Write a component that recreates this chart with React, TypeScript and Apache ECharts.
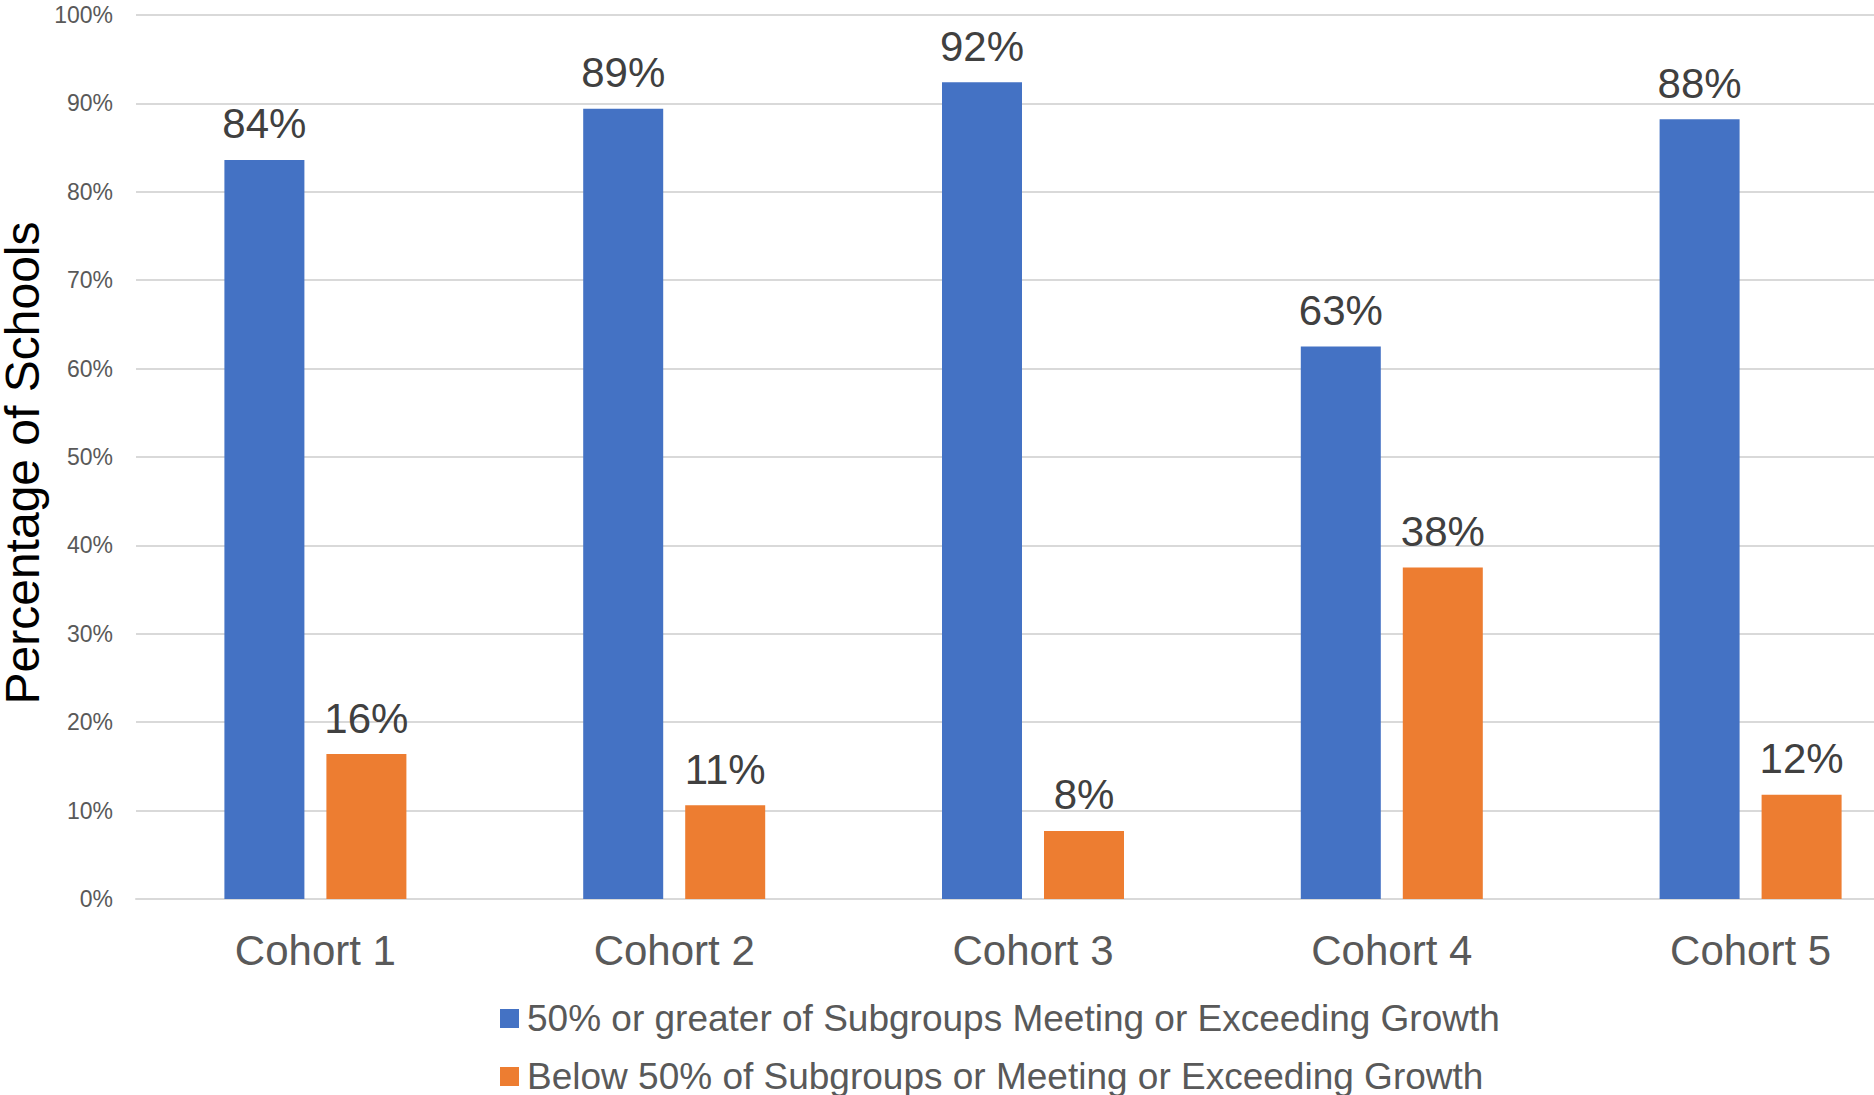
import React, { useEffect, useRef } from "react";
import * as echarts from "echarts";

const categories = ["Cohort 1", "Cohort 2", "Cohort 3", "Cohort 4", "Cohort 5"];
const seriesNames = [
  "50% or greater of Subgroups Meeting or Exceeding Growth",
  "Below 50% of Subgroups or Meeting or Exceeding Growth",
];
const aboveValues = [83.6, 89.4, 92.4, 62.5, 88.2];
const belowValues = [16.4, 10.6, 7.7, 37.5, 11.8];
const yTitle = "Percentage of Schools";

const FONT = "'Liberation Sans', Arial, sans-serif";

export default function App() {
  const ref = useRef<HTMLDivElement>(null);
  useEffect(() => {
    document.body.style.margin = "0";
    const chart = echarts.init(ref.current!, null, { renderer: "svg" });
    const labelCfg = {
      show: true,
      position: "top",
      distance: 15,
      fontSize: 42,
      fontFamily: FONT,
      color: "#404040",
      formatter: (p: any) => Math.round(p.value) + "%",
    };
    const legendBase = {
      orient: "horizontal",
      left: 495,
      itemWidth: 19,
      itemHeight: 19,
      icon: "rect",
      textStyle: { fontSize: 37, fontFamily: FONT, color: "#595959", padding: [0, 0, 0, 3] },
    };
    chart.setOption({
      animation: false,
      backgroundColor: "#ffffff",
      grid: { left: 136, top: 15, right: 2, bottom: 196, containLabel: false },
      legend: [
        { ...legendBase, top: 995, data: [seriesNames[0]] },
        { ...legendBase, top: 1053, data: [seriesNames[1]] },
      ],
      xAxis: {
        type: "category",
        data: categories,
        axisLine: { show: true, lineStyle: { color: "#D9D9D9", width: 2 } },
        axisTick: { show: false },
        axisLabel: { fontSize: 42, fontFamily: FONT, color: "#595959", margin: 30 },
      },
      yAxis: {
        type: "value",
        min: 0,
        max: 100,
        interval: 10,
        axisLine: { show: false },
        axisTick: { show: false },
        axisLabel: { fontSize: 23, fontFamily: FONT, color: "#595959", margin: 23, formatter: "{value}%" },
        splitLine: { lineStyle: { color: "#D9D9D9", width: 2 } },
      },
      graphic: [
        {
          type: "text",
          x: 22,
          y: 463,
          rotation: Math.PI / 2,
          style: {
            text: yTitle,
            fontSize: 48,
            fontFamily: FONT,
            fill: "#000000",
            align: "center",
            verticalAlign: "middle",
          },
        },
      ],
      series: [
        {
          name: seriesNames[0],
          type: "bar",
          data: aboveValues,
          barWidth: 80,
          barGap: "27.5%",
          itemStyle: { color: "#4472C4" },
          label: labelCfg,
        },
        {
          name: seriesNames[1],
          type: "bar",
          data: belowValues,
          barWidth: 80,
          barGap: "27.5%",
          itemStyle: { color: "#ED7D31" },
          label: labelCfg,
        },
      ],
    });
    return () => chart.dispose();
  }, []);
  return (
    <div style={{ width: 1874, height: 1095, overflow: "hidden", position: "relative" }}>
      <div ref={ref} style={{ width: 1932, height: 1095 }} />
    </div>
  );
}
